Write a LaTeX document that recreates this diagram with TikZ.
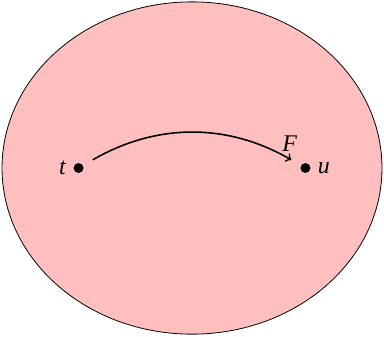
\documentclass[tikz,border=0pt]{standalone}
\usepackage{fontspec}
\setmainfont{Liberation Serif}
\begin{document}
\begin{tikzpicture}[font=\fontsize{12}{14}\selectfont]
    \tikzset{pt/.style={circle, fill=black, inner sep=0pt, minimum size=5pt}}
    \useasboundingbox (-3.386,-2.98) rectangle (3.386,2.963);
    
    \filldraw[fill=red!25, draw=black] (0,0) ellipse (3.35 and 2.93);
    
    \node[pt, label=left:{\textit{t}}] (t) at (-2,0) {};
    \node[pt, label=right:{\textit{u}}] (u) at (2,0) {};
    
    \draw[->, thick, shorten <=5.5pt, shorten >=5.5pt] (t) to[bend left=30]
        node[pos=0.95, above] (f) {\textit{F}} (u);
\end{tikzpicture}
\end{document}
